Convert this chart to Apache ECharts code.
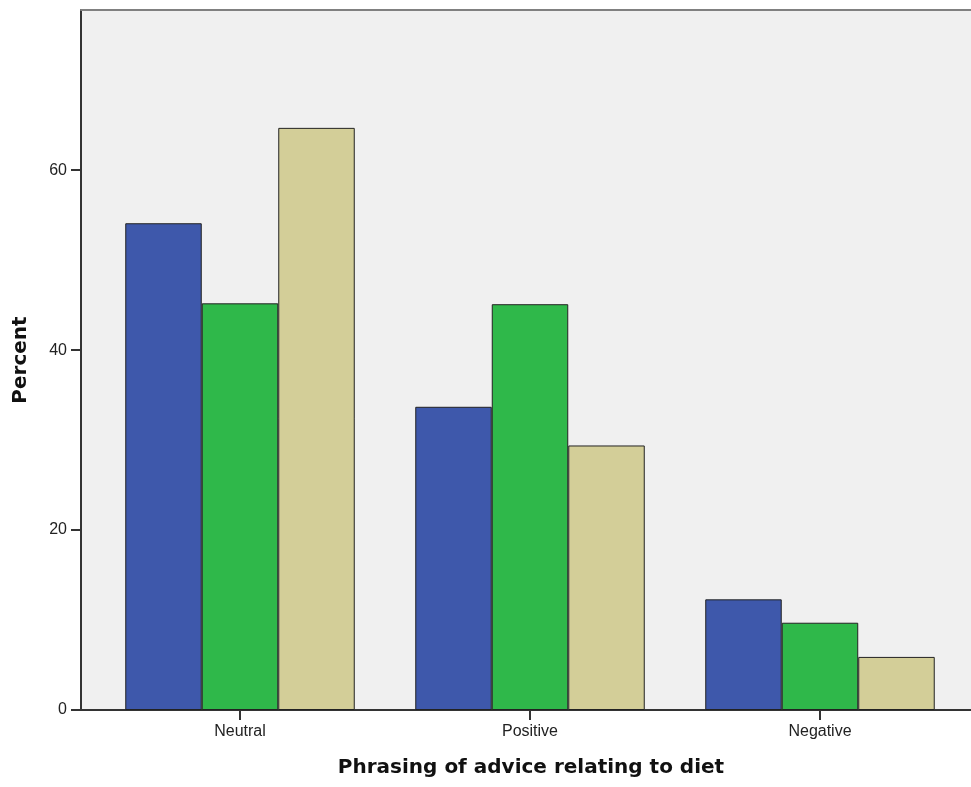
<!DOCTYPE html>
<html>
<head>
<meta charset="utf-8">
<script src="https://cdn.jsdelivr.net/npm/echarts@6/dist/echarts.min.js"></script>
<style>
html,body{margin:0;padding:0;background:#fff;}
#chart{width:971px;height:787px;}
</style>
</head>
<body>
<div id="chart"></div>
<script>
const categories = ['Neutral', 'Positive', 'Negative'];
const seriesBlue = [54.1, 33.7, 12.3];
const seriesGreen = [45.2, 45.1, 9.7];
const seriesTan = [64.7, 29.4, 5.9];
const yTicks = [0, 20, 40, 60];

const colors = ['#3E58AB', '#2FB84A', '#D3CE98'];
const toPoints = arr => arr.map((v, i) => [i, v]);
const catIdx = categories.map((c, i) => i);

const chart = echarts.init(document.getElementById('chart'), null, {renderer: 'canvas'});
const barStyle = c => ({color: c, borderColor: '#222', borderWidth: 1});
const mk = (data, c) => ({
  type: 'bar', data: toPoints(data), barWidth: 76.5, barGap: '0%',
  itemStyle: barStyle(c), emphasis: {disabled: true}, animation: false
});
chart.setOption({
  animation: false,
  grid: {left: 81, right: 0, top: 10, bottom: 77, show: true,
         backgroundColor: '#F0F0F0', borderWidth: 0},
  xAxis: [{
    type: 'value', min: -0.5483, max: 2.5207,
    splitLine: {show: false},
    axisLine: {show: true, onZero: false, lineStyle: {color: '#333', width: 2}},
    axisTick: {show: true, length: 10, customValues: catIdx, lineStyle: {color: '#333', width: 2}},
    axisLabel: {customValues: catIdx, formatter: v => categories[Math.round(v)] || '',
                fontFamily: 'Liberation Sans', fontSize: 16, color: '#222', margin: 14},
    name: 'Phrasing of advice relating to diet', nameLocation: 'middle', nameGap: 48,
    nameTextStyle: {fontFamily: 'DejaVu Sans', fontWeight: 'bold', fontSize: 20, color: '#111', padding: [0, 0, 0, 10]}
  }, {
    type: 'value', position: 'top', min: -0.5483, max: 2.5207,
    splitLine: {show: false}, axisTick: {show: false}, axisLabel: {show: false},
    axisLine: {show: true, onZero: false, lineStyle: {color: '#808080', width: 2}}
  }],
  yAxis: {
    type: 'value', min: 0, max: 77.8, interval: 20,
    splitLine: {show: false},
    axisLine: {show: true, onZero: false, lineStyle: {color: '#333', width: 2}},
    axisTick: {show: true, length: 10, customValues: yTicks, lineStyle: {color: '#333', width: 2}},
    axisLabel: {customValues: yTicks, fontFamily: 'Liberation Sans', fontSize: 16, color: '#222', margin: 14},
    name: 'Percent', nameLocation: 'middle', nameGap: 50, nameRotate: 90,
    nameTextStyle: {fontFamily: 'DejaVu Sans', fontWeight: 'bold', fontSize: 20, color: '#111'}
  },
  series: [mk(seriesBlue, colors[0]), mk(seriesGreen, colors[1]), mk(seriesTan, colors[2])]
});
</script>
</body>
</html>
